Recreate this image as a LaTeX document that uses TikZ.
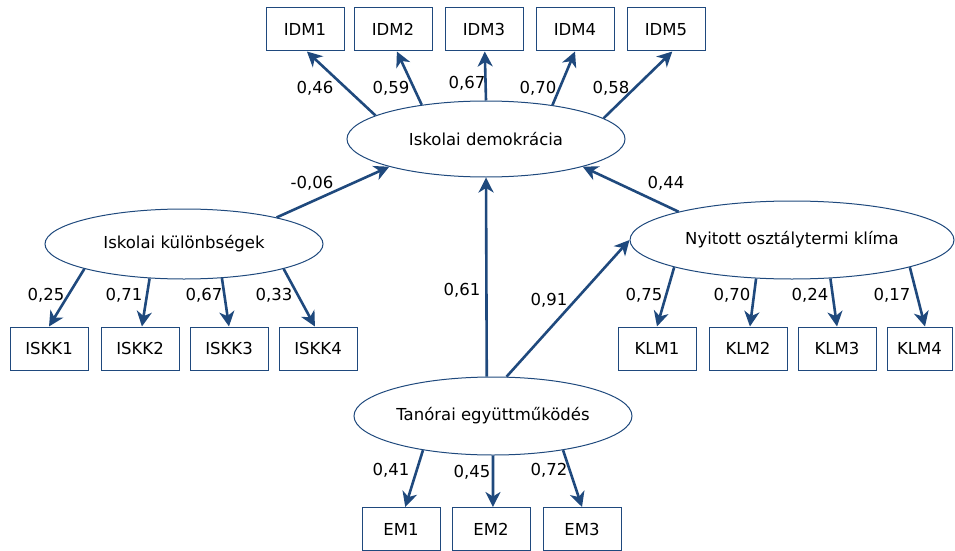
\documentclass[tikz,border=0pt]{standalone}
\usepackage{fontspec}
\setmainfont{DejaVu Sans}
\usetikzlibrary{arrows.meta,shapes.geometric}

\definecolor{bleuSEM}{RGB}{31,73,125}

\begin{document}
\begin{tikzpicture}[x=1pt,y=-1pt,
    font=\fontsize{16.5}{19}\selectfont,
    mesure/.style={draw=bleuSEM,line width=1pt,minimum width=78pt,minimum height=43pt,inner sep=0pt},
    latent/.style={ellipse,draw=bleuSEM,line width=1pt,inner sep=0pt},
    lien/.style={draw=bleuSEM,line width=2.6pt,-{Stealth[length=15pt,width=15pt,inset=4.5pt]}},
    coef/.style={inner sep=0pt}]
    \useasboundingbox (0,0) rectangle (955,551);
    % Variables latentes
    \node[latent,minimum width=278pt,minimum height=76pt] (dem) at (486,139) {Iskolai demokrácia};
    \node[latent,minimum width=278pt,minimum height=70pt] (isk) at (184,244) {Iskolai különbségek};
    \node[latent,minimum width=324pt,minimum height=78pt] (nyi) at (792,240) {Nyitott osztálytermi klíma};
    \node[latent,minimum width=278pt,minimum height=78pt] (ten) at (493,416) {Tanórai együttműködés};
    % Indicateurs du haut
    \node[mesure] (idm1) at (305,29.5) {IDM1};
    \node[mesure] (idm2) at (393,29.5) {IDM2};
    \node[mesure] (idm3) at (484,29.5) {IDM3};
    \node[mesure] (idm4) at (575,29.5) {IDM4};
    \node[mesure] (idm5) at (666,29.5) {IDM5};
    % Indicateurs de gauche
    \node[mesure] (iskk1) at (49,348.5) {ISKK1};
    \node[mesure] (iskk2) at (140,348.5) {ISKK2};
    \node[mesure] (iskk3) at (229,348.5) {ISKK3};
    \node[mesure] (iskk4) at (318,348.5) {ISKK4};
    % Indicateurs de droite
    \node[mesure] (klm1) at (657,348.5) {KLM1};
    \node[mesure] (klm2) at (748,348.5) {KLM2};
    \node[mesure] (klm3) at (837,348.5) {KLM3};
    \node[mesure,minimum width=65pt] (klm4) at (919.5,348.5) {KLM4};
    % Indicateurs du bas
    \node[mesure] (em1) at (401,529) {EM1};
    \node[mesure] (em2) at (491,529) {EM2};
    \node[mesure] (em3) at (582,529) {EM3};
    % Chemins structurels
    \draw[lien] (isk.16) -- (dem.196); % -0,06
    \draw[lien] (nyi.166) -- (dem.344); % 0,44
    \draw[lien] (ten.99) -- (dem.south); % 0,61
    \draw[lien] (ten.71) -- (nyi.west); % 0,91
    % Saturations
    \draw[lien] (dem.168) -- (idm1.-85);
    \draw[lien] (dem.152) -- (idm2.-80);
    \draw[lien] (dem.90) -- (idm3.-88);
    \draw[lien] (dem.27) -- (idm4.south);
    \draw[lien] (dem.10) -- (idm5.-74);
    \draw[lien] (isk.194) -- (iskk1.north);
    \draw[lien] (isk.225) -- (iskk2.85);
    \draw[lien] (isk.318) -- (iskk3.north);
    \draw[lien] (isk.346) -- (iskk4.98);
    \draw[lien] (nyi.193) -- (klm1.north);
    \draw[lien] (nyi.227) -- (klm2.85);
    \draw[lien] (nyi.315) -- (klm3.north);
    \draw[lien] (nyi.347) -- (klm4.76);
    \draw[lien] (ten.206) -- (em1.79);
    \draw[lien] (ten.270) -- (em2.85);
    \draw[lien] (ten.334) -- (em3.north);
    % Coefficients
    \node[coef] (c1) at (315,88) {0,46};
    \node[coef] (c2) at (391,88) {0,59};
    \node[coef] (c3) at (467,83) {0,67};
    \node[coef] (c4) at (538,88) {0,70};
    \node[coef] (c5) at (611,88) {0,58};
    \node[coef] (c6) at (312,183) {-0,06};
    \node[coef] (c7) at (666,183) {0,44};
    \node[coef] (c8) at (462,290) {0,61};
    \node[coef] (c9) at (549,300) {0,91};
    \node[coef] (c10) at (46,295) {0,25};
    \node[coef] (c11) at (124,295) {0,71};
    \node[coef] (c12) at (204,295) {0,67};
    \node[coef] (c13) at (274,295) {0,33};
    \node[coef] (c14) at (644,295) {0,75};
    \node[coef] (c15) at (732,295) {0,70};
    \node[coef] (c16) at (810,295) {0,24};
    \node[coef] (c17) at (892,295) {0,17};
    \node[coef] (c18) at (391,470) {0,41};
    \node[coef] (c19) at (472,472) {0,45};
    \node[coef] (c20) at (549,470) {0,72};
\end{tikzpicture}
\end{document}
